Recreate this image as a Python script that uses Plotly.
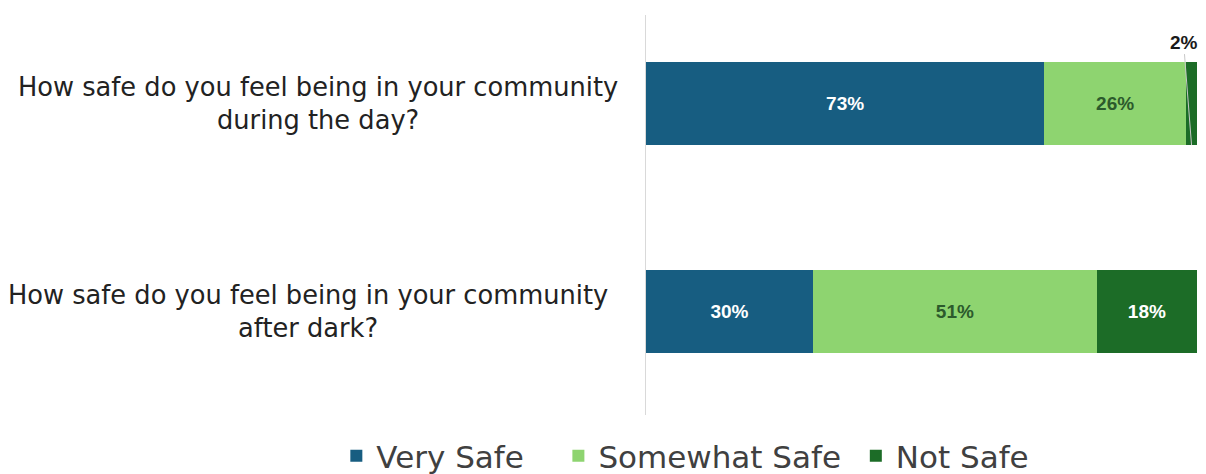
import plotly.graph_objects as go

questions = [
    "How safe do you feel being in your community<br>during the day?",
    "How safe do you feel being in your community<br>after dark?",
]
categories = ["day", "dark"]
series_names = ["Very Safe", "Somewhat Safe", "Not Safe"]
very_safe = [73, 30]
somewhat_safe = [26, 51]
not_safe = [2, 18]
series_values = [very_safe, somewhat_safe, not_safe]
colors = ["#175d81", "#8ed470", "#1c6c27"]
text_colors = ["#ffffff", "#2c5a2c", "#ffffff"]
legend_pad = ["\u00a0\u00a0\u00a0", "\u00a0", ""]  # spacing after legend entries

# 100% stacked: each bar normalised to its total
totals = [sum(s[i] for s in series_values) for i in range(len(categories))]

fig = go.Figure()
for name, vals, col, tcol, pad in zip(series_names, series_values, colors, text_colors, legend_pad):
    fig.add_trace(go.Bar(
        y=categories, x=[v / t * 100 for v, t in zip(vals, totals)], name=name + pad,
        orientation="h",
        marker=dict(color=col, line=dict(width=0)),
        text=[f"{v}%" if v >= 5 else "" for v in vals],
        textposition="inside", insidetextanchor="middle",
        textfont=dict(family="Liberation Sans", size=19, color=tcol, weight="bold"),
        textangle=0, hoverinfo="name+text",
    ))

# small-segment labels placed above the bar with a leader line
cum = [0.0, 0.0]
for vals in series_values:
    for i, v in enumerate(vals):
        share = v / totals[i] * 100
        if v < 5:
            fig.add_annotation(
                x=cum[i] + share / 2, y=i + 0.2, xref="x", yref="y",
                text=f"<b>{v}%</b>", showarrow=True, arrowhead=0, arrowwidth=1,
                arrowcolor="#c8c8c8", ax=-8, ay=-103, standoff=0,
                font=dict(family="Liberation Sans", size=19, color="#1a1a1a"),
            )
        cum[i] += share

label_x = [-0.047, -0.065]
for i, (q, c) in enumerate(zip(questions, categories)):
    fig.add_annotation(
        x=label_x[i], y=c, xref="paper", yref="y", text=q, showarrow=False,
        xanchor="right", yanchor="middle", align="center",
        font=dict(family="DejaVu Sans", size=25.7, color="#222222"),
    )

fig.update_layout(
    width=1206, height=474,
    margin=dict(l=646, r=9, t=15, b=59, autoexpand=False),
    paper_bgcolor="white", plot_bgcolor="white",
    barmode="stack", bargap=0.6,
    showlegend=True,
    legend=dict(
        orientation="h", xref="paper", x=-0.562, xanchor="left",
        yref="paper", y=-0.1025, yanchor="middle",
        font=dict(family="DejaVu Sans", size=31, color="#404040"),
        traceorder="normal", itemclick=False, bgcolor="rgba(0,0,0,0)",
    ),
    xaxis=dict(range=[0, 100], showgrid=False, zeroline=False, showticklabels=False,
               showline=False, ticks=""),
    yaxis=dict(categoryorder="array", categoryarray=categories,
               range=[1.4976, -0.4255], showgrid=False, zeroline=False,
               showticklabels=False, showline=True, linecolor="#d9d9d9", linewidth=1,
               ticks=""),
)

fig.write_html("out.html")
